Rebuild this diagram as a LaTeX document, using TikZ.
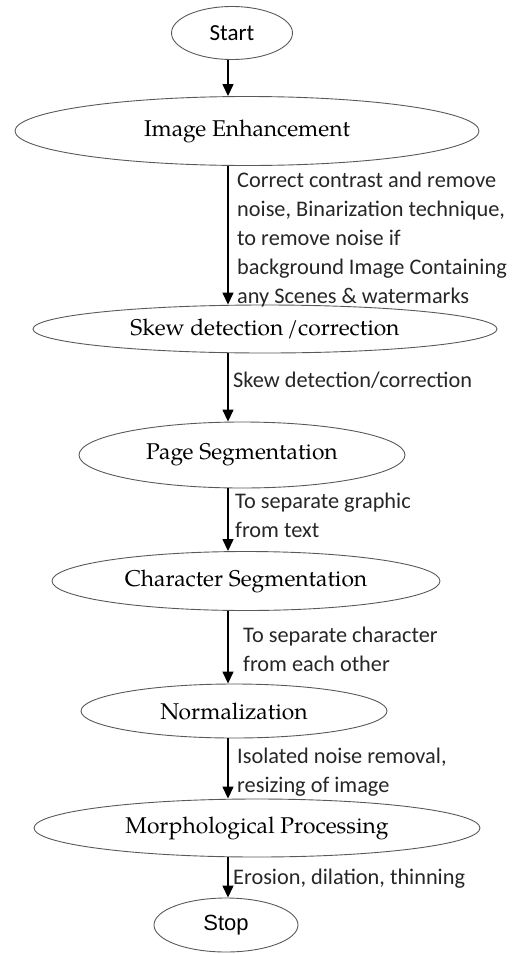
\documentclass[tikz,border=0pt]{standalone}
\usepackage{fontspec}
\setmainfont{TeX Gyre Pagella}
\newfontfamily\lblfont{Carlito}
\newfontfamily\arialfont{Liberation Sans}
\usetikzlibrary{shapes.geometric,arrows.meta}
\begin{document}
\begin{tikzpicture}[x=1pt,y=-1pt,
  proc/.style={ellipse, draw=black!65, line width=0.9pt, inner sep=0pt,
    font=\fontsize{22.8}{27}\selectfont, text=black},
  lbl/.style={anchor=north west, inner sep=0pt, align=left,
    font=\lblfont\fontsize{22.3}{29}\selectfont, text=black!85},
  arr/.style={line width=1.4pt, -{Triangle[length=12pt,width=11pt]}}]
\useasboundingbox (0,0) rectangle (523,954);
\coordinate (ax) at (228,0);
\node[proc, minimum width=121pt, minimum height=53pt] (start) at (232,33) {\lblfont\fontsize{23}{27}\selectfont Start};
\node[proc, minimum width=464pt, minimum height=69pt] (ie) at (247,131) {Image Enhancement};
\node[proc, minimum width=464pt, minimum height=48pt] (skew) at (265,329) {Skew detection\,/correction};
\node[proc, minimum width=326pt, minimum height=66pt] (page) at (242,455) {Page Segmentation};
\node[proc, minimum width=388pt, minimum height=59pt] (cseg) at (246,581) {Character Segmentation};
\node[proc, minimum width=306pt, minimum height=54pt] (norm) at (234,711) {Normalization};
\node[proc, minimum width=446pt, minimum height=58pt] (morph) at (257,828) {Morphological Processing};
\node[proc, minimum width=144pt, minimum height=54pt] (stop) at (226,925) {\arialfont\fontsize{22}{26}\selectfont Stop};

\draw[arr] (start.south -| ax) -- (ie.north -| ax);
\draw[arr] (ie.south -| ax) -- (skew.north -| ax);
\draw[arr] (skew.south -| ax) -- (page.north -| ax);
\draw[arr] (page.south -| ax) -- (cseg.north -| ax);
\draw[arr] (cseg.south -| ax) -- (norm.north -| ax);
\draw[arr] (norm.south -| ax) -- (morph.north -| ax);
\draw[arr] (morph.south -| ax) -- (stop.north -| ax);

\node[lbl] (l1) at (237,172) {Correct contrast and remove\\noise, Binarization technique,\\to remove noise if\\background Image Containing\\any Scenes \& watermarks};
\node[lbl] (l2) at (233,372) {Skew detection/correction};
\node[lbl] (l3) at (235,493) {To separate graphic\\from text};
\node[lbl] (l4) at (243,627) {To separate character\\from each other};
\node[lbl] (l5) at (237,748) {Isolated noise removal,\\resizing of image};
\node[lbl] (l6) at (233,869) {Erosion, dilation, thinning};
\end{tikzpicture}
\end{document}
